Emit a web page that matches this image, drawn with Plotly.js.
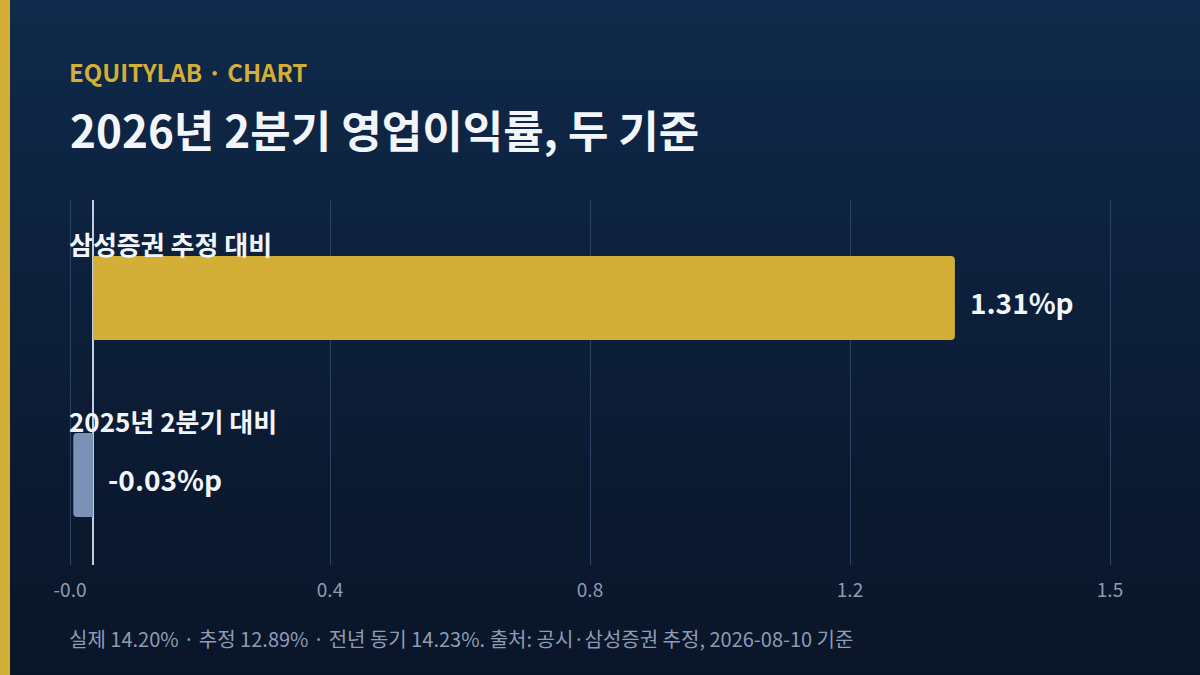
<!DOCTYPE html>
<html>
<head>
<meta charset="utf-8">
<script src="https://cdn.plot.ly/plotly-3.0.1.min.js"></script>
<style>
  html, body { margin: 0; padding: 0; }
  body {
    width: 1200px; height: 675px; overflow: hidden; position: relative;
    background: linear-gradient(180deg, #0f2a4b 0%, #0c1d36 55%, #0a1528 100%);
  }
  #stripe { position: absolute; left: 0; top: 0; width: 10px; height: 675px; background: #d4af37; }
  #chart { position: absolute; left: 0; top: 0; width: 1200px; height: 675px; }
</style>
</head>
<body>
<div id="stripe"></div>
<div id="chart"></div>
<script>
const categories = ['삼성증권 추정 대비', '2025년 2분기 대비'];
const values = [1.31, -0.03];
const valueLabels = ['1.31%p', '-0.03%p'];
const barColors = ['#d4af37', '#7b91b5'];
const kicker = 'EQUITYLAB · CHART';
const titleText = '2026년 2분기 영업이익률, 두 기준';
const footnote = '실제 14.20% · 추정 12.89% · 전년 동기 14.23%. 출처: 공시·삼성증권 추정, 2026-08-10 기준';

const FONT = '"Noto Sans CJK KR", "Noto Sans", sans-serif';
const xmin = Math.min(0, ...values) - 0.005;
const xmax = Math.max(...values) * 1.18;
const tickvals = [0, 1, 2, 3, 4].map(i => xmin + (xmax - xmin) * i / 4);
const ticktext = tickvals.map(v => v.toFixed(1));
const PADPX = 4;
const pad = (xmax - xmin) / 1040 * PADPX;

const trace = {
  type: 'bar',
  orientation: 'h',
  x: values,
  y: categories,
  marker: { color: barColors, line: { width: 0 } },
  width: 0.475,
  hoverinfo: 'skip'
};

const annotations = [];
categories.forEach((c, i) => {
  annotations.push({
    xref: 'x', x: xmin, yref: 'y', y: c, xanchor: 'left', yanchor: 'middle',
    xshift: -3, yshift: 55, showarrow: false, text: '<b>' + c + '</b>',
    font: { family: FONT, size: 26, color: '#f2f5fa' }
  });
  annotations.push({
    xref: 'x', x: Math.max(values[i], 0), yref: 'y', y: c, xanchor: 'left', yanchor: 'middle',
    xshift: 13, yshift: -4, showarrow: false, text: '<b>' + valueLabels[i] + '</b>',
    font: { family: FONT, size: 28, color: '#f2f5fa' }
  });
});
annotations.push({
  xref: 'x', x: xmin, yref: 'paper', y: 1, xanchor: 'left', yanchor: 'middle',
  xshift: -3, yshift: 200 - 71, showarrow: false, text: '<b>' + kicker + '</b>',
  font: { family: FONT, size: 24, color: '#d4af37' }
});
annotations.push({
  xref: 'x', x: xmin, yref: 'paper', y: 0, xanchor: 'left', yanchor: 'middle',
  xshift: -3, yshift: -(638 - 565), showarrow: false, text: footnote,
  font: { family: FONT, size: 20, color: '#8d9cb5' }
});

const layout = {
  width: 1200, height: 675,
  paper_bgcolor: 'rgba(0,0,0,0)', plot_bgcolor: 'rgba(0,0,0,0)',
  margin: { l: 70 - PADPX, r: 90 - PADPX, t: 200, b: 110 },
  title: {
    text: '<b>' + titleText + '</b>',
    xref: 'container', x: 70 / 1200, xanchor: 'left',
    yref: 'container', y: 1 - 133 / 675, yanchor: 'middle',
    font: { family: FONT, size: 44, color: '#f2f5fa' }
  },
  barcornerradius: 4,
  showlegend: false,
  xaxis: {
    range: [xmin - pad, xmax + pad], tickmode: 'array', tickvals: tickvals, ticktext: ticktext,
    showgrid: true, gridcolor: '#2b4264', gridwidth: 1,
    zeroline: true, zerolinecolor: '#c3cde0', zerolinewidth: 2,
    showline: false, ticks: 'outside', ticklen: 8, tickcolor: 'rgba(0,0,0,0)',
    tickfont: { family: FONT, size: 19, color: '#8d9cb5' },
    fixedrange: true
  },
  yaxis: {
    type: 'category', categoryorder: 'array', categoryarray: categories,
    range: [1.508, -0.554], showticklabels: false, showgrid: false, zeroline: false,
    fixedrange: true
  },
  annotations: annotations
};

Plotly.newPlot('chart', [trace], layout, { displayModeBar: false, staticPlot: true });
</script>
</body>
</html>
